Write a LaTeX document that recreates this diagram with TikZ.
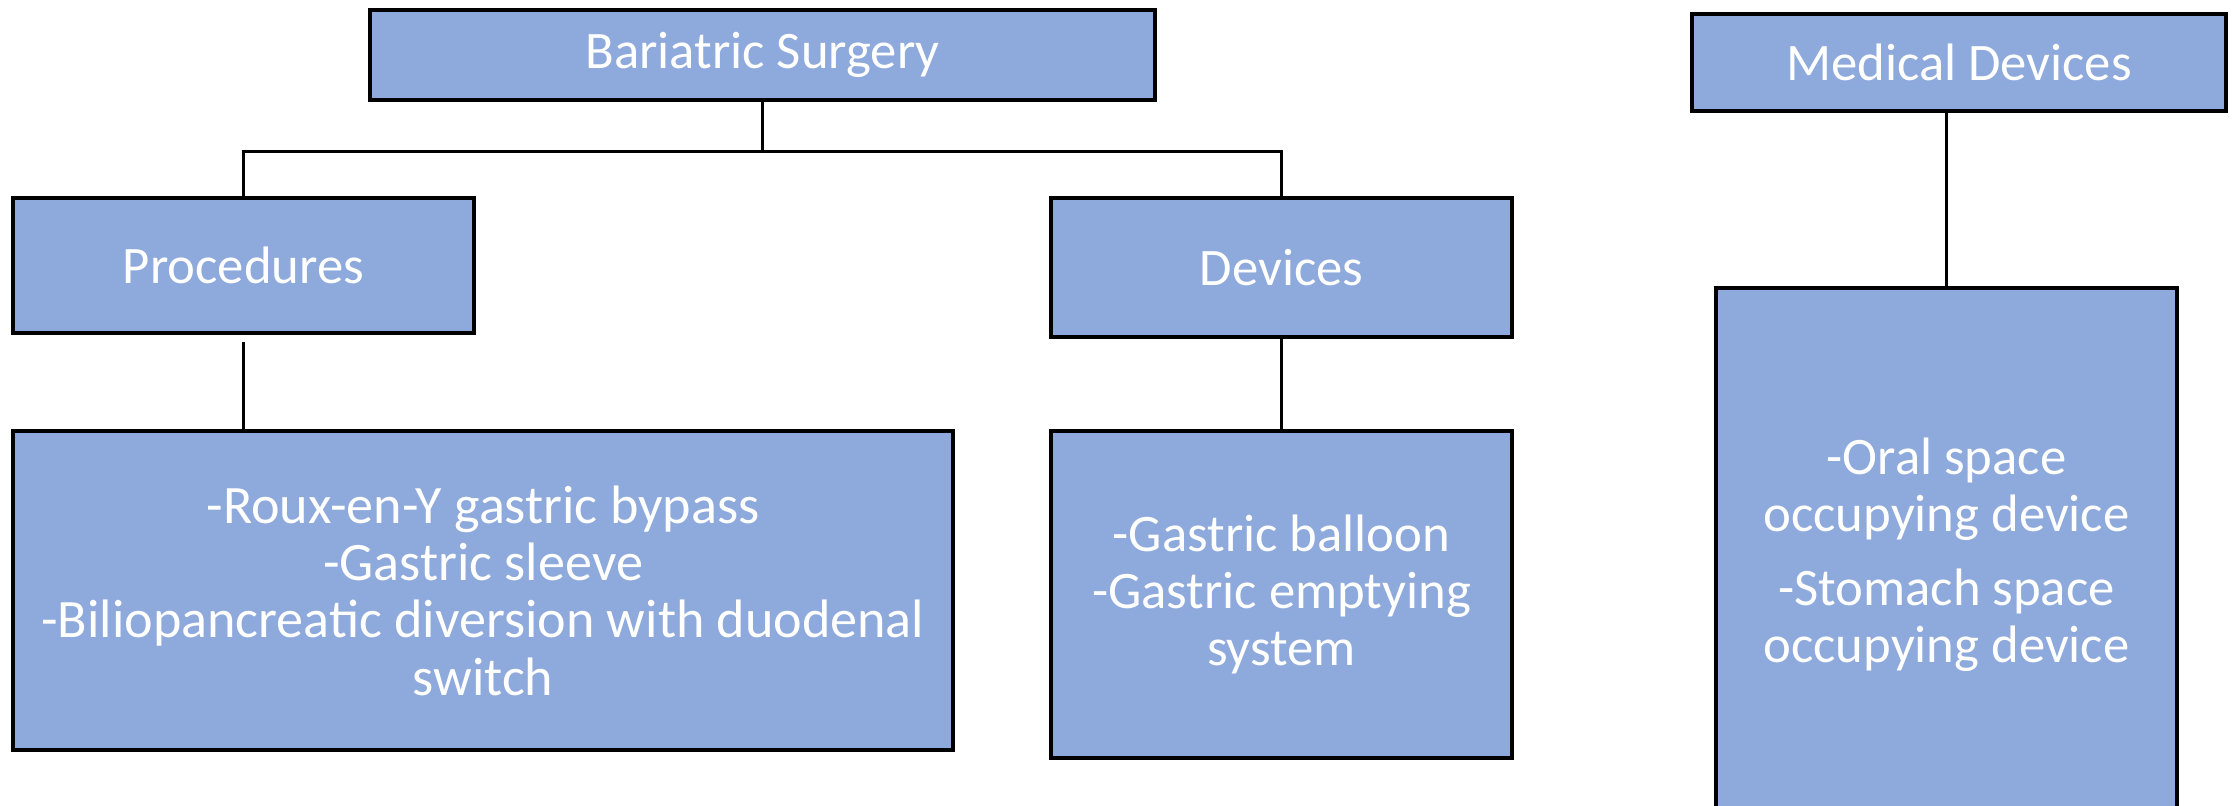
\documentclass[tikz,border=0pt]{standalone}
\usepackage{fontspec}
\setmainfont{Carlito}
\usetikzlibrary{positioning,calc}

\definecolor{boxblue}{HTML}{8EA9DB}

\begin{document}
\begin{tikzpicture}[
  x=1cm, y=1cm,
  font=\fontsize{15}{16.2}\selectfont,
  headbox/.style={draw, line width=0.9pt, fill=boxblue, text=white, align=center, inner sep=2pt},
  listbox/.style={draw, line width=0.9pt, fill=boxblue, text=white, align=center, inner sep=2pt},
  link/.style={line width=0.9pt}
]
\useasboundingbox (0,0) rectangle (22.33,-8.06);

% Bariatric surgery tree
\node[headbox, minimum width=7.85cm, minimum height=0.90cm] (btitle) at (7.625,-0.55) {Bariatric Surgery};
\node[headbox, minimum width=4.61cm, minimum height=1.35cm] (proc) at (2.435,-2.655) {Procedures};
\node[headbox, minimum width=4.61cm, minimum height=1.39cm] (dev) at (12.815,-2.675) {Devices};
\node[listbox, minimum width=9.40cm, minimum height=3.19cm, font=\fontsize{15.4}{16.3}\selectfont] (plist) at (4.83,-5.905) {-Roux-en-Y gastric bypass\\-Gastric sleeve\\-Biliopancreatic diversion with duodenal\\switch};
\node[listbox, minimum width=4.61cm, minimum height=3.27cm] (dlist) at (12.815,-5.945) {-Gastric balloon\\-Gastric emptying\\system};

% Medical devices tree
\node[headbox, minimum width=5.34cm, minimum height=0.97cm] (mtitle) at (19.59,-0.625) {Medical Devices};
\node[listbox, minimum width=4.61cm, minimum height=5.34cm] (mlist) at (19.465,-5.55) {-Oral space\\occupying device\\[4.8pt]-Stomach space\\occupying device};

\coordinate (hub) at ($(btitle.south)+(0,-0.5)$);
\draw[link] (btitle.south) -- (hub);
\draw[link] (proc.north) |- (hub) -| (dev.north);
\draw[link, shorten <=0.07cm] (proc.south) -- (plist.north -| proc.south);
\draw[link] (dev.south) -- (dlist.north -| dev.south);
\draw[link] (mlist.north) -- (mlist.north |- mtitle.south);
\end{tikzpicture}
\end{document}
